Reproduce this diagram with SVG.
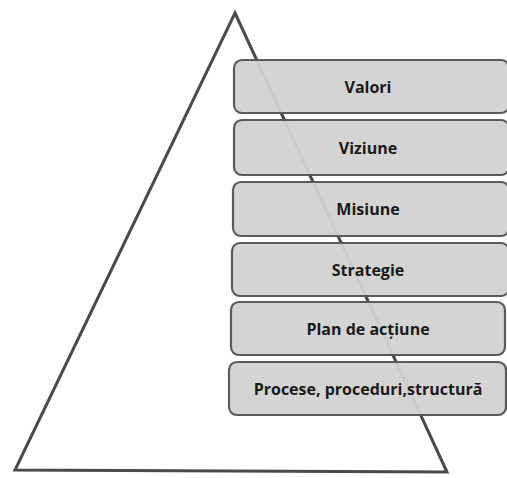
<svg xmlns="http://www.w3.org/2000/svg" width="507" height="478" viewBox="0 0 507 478">
  <style>
    .box { fill: #d2d2d2; fill-opacity: 0.95; stroke: #5a5a5a; stroke-width: 2.2; }
    .lbl { font-family: "Open Sans", "Liberation Sans", sans-serif; font-weight: bold; font-size: 16px; fill: #1a1a1a; text-anchor: middle; }
    .tri { fill: none; stroke: #4a4a4a; stroke-width: 3; stroke-linejoin: miter; }
  </style>
  <rect width="507" height="478" fill="#ffffff"/>
  <g id="connectors">
    <polygon class="tri" points="235,13 447,472 15,470"/>
  </g>
  <g id="valori">
    <rect class="box" x="234" y="60" width="275" height="53" rx="8"/>
    <text class="lbl" x="368" y="93">Valori</text>
  </g>
  <g id="viziune">
    <rect class="box" x="234" y="120" width="275" height="55" rx="8"/>
    <text class="lbl" x="368" y="154">Viziune</text>
  </g>
  <g id="misiune">
    <rect class="box" x="233" y="182" width="276" height="54" rx="8"/>
    <text class="lbl" x="368" y="215">Misiune</text>
  </g>
  <g id="strategie">
    <rect class="box" x="232" y="243" width="277" height="53" rx="8"/>
    <text class="lbl" x="368" y="276">Strategie</text>
  </g>
  <g id="plan">
    <rect class="box" x="231" y="302" width="274" height="53" rx="8"/>
    <text class="lbl" x="368" y="335">Plan de acțiune</text>
  </g>
  <g id="procese">
    <rect class="box" x="229" y="362" width="277" height="53" rx="8"/>
    <text class="lbl" x="368" y="395">Procese, proceduri,structură</text>
  </g>
</svg>
